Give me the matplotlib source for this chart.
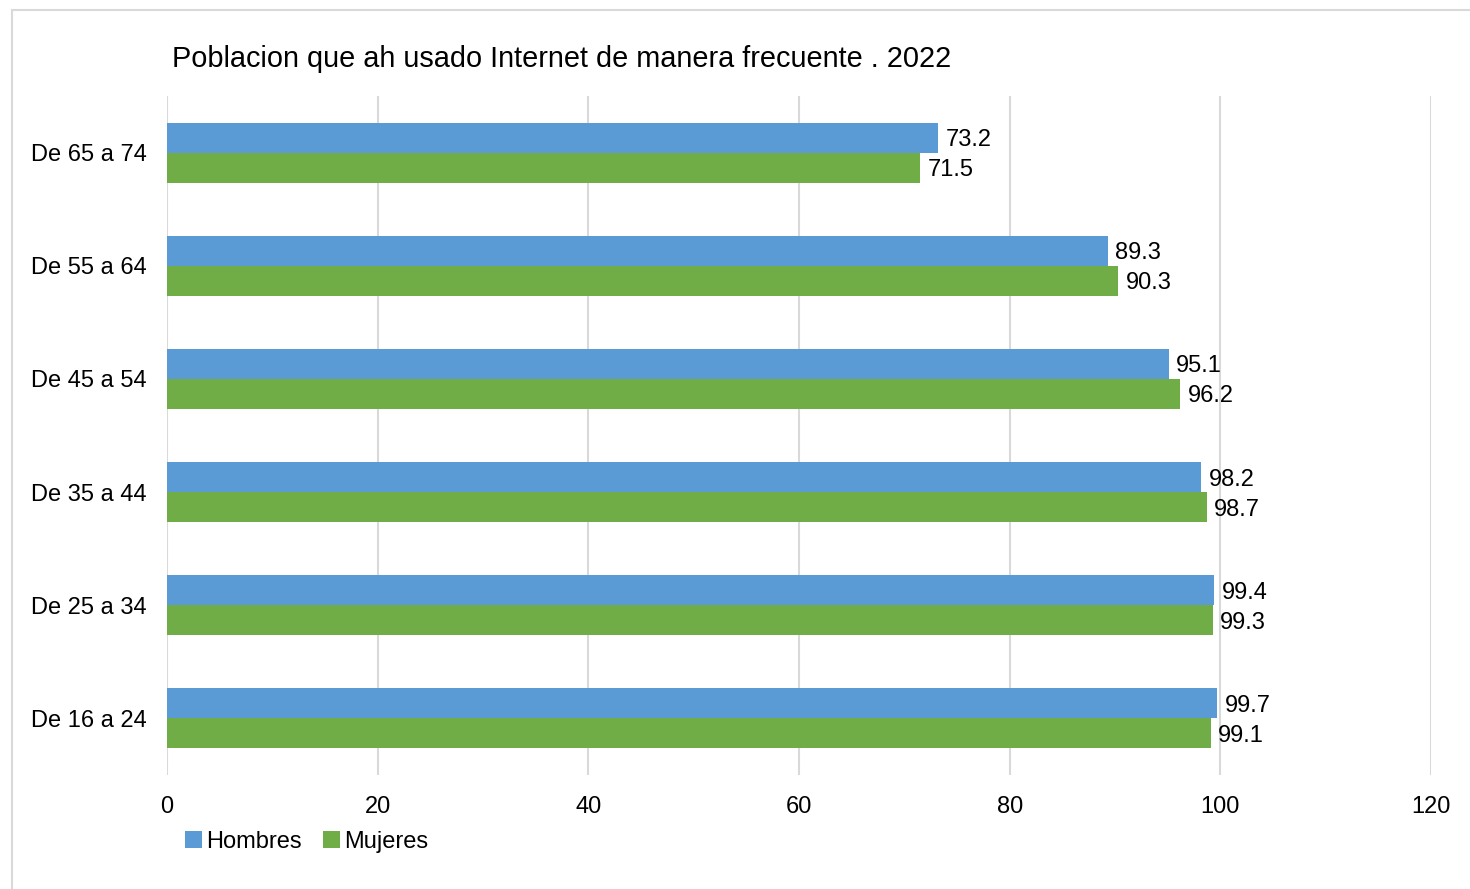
import numpy as np
import matplotlib.pyplot as plt
from matplotlib.patches import Rectangle

plt.rcParams['font.family'] = ['Liberation Sans', 'DejaVu Sans']

# datos
grupos = ["De 16 a 24", "De 25 a 34", "De 35 a 44", "De 45 a 54", "De 55 a 64", "De 65 a 74"]
hombres = [99.7, 99.4, 98.2, 95.1, 89.3, 73.2]
mujeres = [99.1, 99.3, 98.7, 96.2, 90.3, 71.5]
xticks = [0, 20, 40, 60, 80, 100, 120]

azul = '#5B9BD5'
verde = '#70AD47'
gris = '#D9D9D9'

fig = plt.figure(figsize=(14.7, 8.89), dpi=100)
ax = fig.add_axes([167/1470, 1 - 775/889, (1431 - 167)/1470, (775 - 96)/889])

# marco exterior
fig.patches.append(Rectangle((12/1470, -0.1), 1.2, 1 - 10/889 + 0.1, transform=fig.transFigure,
                             fill=False, edgecolor=gris, linewidth=1.5))

y = np.arange(len(grupos))
h = 0.265
b1 = ax.barh(y + h/2, hombres, height=h, color=azul, label='Hombres', zorder=3)
b2 = ax.barh(y - h/2, mujeres, height=h, color=verde, label='Mujeres', zorder=3)

for rects, vals in [(b1, hombres), (b2, mujeres)]:
    for r, v in zip(rects, vals):
        ax.text(v + 0.7, r.get_y() + r.get_height()/2, f"{v}", va='center_baseline', ha='left',
                fontsize=17, color='black')

ax.set_xlim(0, 120)
ax.set_ylim(-0.5, len(grupos) - 0.5)
ax.set_xticks(xticks)
ax.set_xticklabels([str(t) for t in xticks], fontsize=17)
ax.set_yticks(y)
ax.set_yticklabels(grupos, fontsize=17)
ax.tick_params(length=0)
ax.tick_params(axis='x', pad=15)
ax.tick_params(axis='y', pad=14.5)
ax.grid(axis='x', color=gris, linewidth=1.5, zorder=0)
for s in ax.spines.values():
    s.set_visible(False)

fig.text(172/1470, 1 - 67/889, "Poblacion que ah usado Internet de manera frecuente . 2022",
         fontsize=20.8, ha='left', va='baseline')

fig.legend(handles=[b1, b2], loc='center left', bbox_to_anchor=(185/1470, 1 - 842/889),
           ncol=2, frameon=False, fontsize=17, handlelength=0.7, handleheight=0.7,
           handletextpad=0.2, columnspacing=0.9, borderaxespad=0, borderpad=0)

fig.savefig('out.png', dpi=100)
